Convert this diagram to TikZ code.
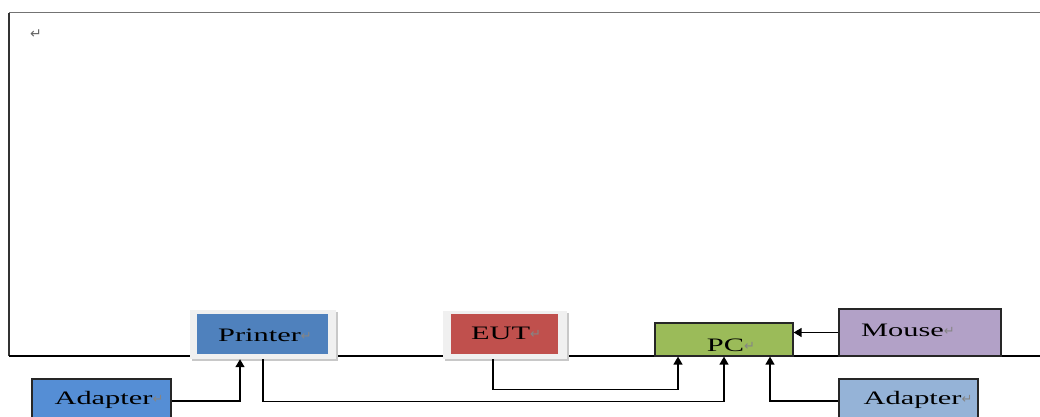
\documentclass[tikz,border=0pt]{standalone}
\usepackage{fontspec}
\usepackage{graphicx}
\setmainfont{Liberation Serif}
\newfontfamily\symf{DejaVu Sans}
\usetikzlibrary{arrows.meta,calc}
\definecolor{cPrinter}{HTML}{4F81BD}
\definecolor{cEUT}{HTML}{C0504D}
\definecolor{cPC}{HTML}{9BBB59}
\definecolor{cMouse}{HTML}{B2A1C7}
\definecolor{cAdL}{HTML}{558ED5}
\definecolor{cAdR}{HTML}{95B3D7}
\definecolor{cFrame}{HTML}{F0F0F0}
\definecolor{cShadow}{HTML}{C8C8C8}
\definecolor{cMark}{HTML}{858585}
\newcommand{\rmark}{{\symf\color{cMark}\fontsize{13}{13}\selectfont\raisebox{1pt}{↵}}}
\newcommand{\lbl}[1]{\scalebox{1.6}[1]{\fontsize{19}{19}\selectfont #1}\rmark}
\tikzset{
  box/.style={draw=black!85, line width=1.2pt, inner sep=0pt},
  plain/.style={draw=none, inner sep=0pt},
  frame/.style={fill=cFrame, draw=none, inner sep=0pt},
  shade/.style={fill=cShadow, draw=none, inner sep=0pt},
  lbltext/.style={inner sep=0pt, text=black},
  conn/.style={draw=black, line width=1.3pt},
  arr/.style={conn, -{Triangle[width=9pt,length=8pt]}}
}
\begin{document}
\begin{tikzpicture}[x=1pt,y=-1pt]
\useasboundingbox (0,0) rectangle (1040,417);
\clip (0,0) rectangle (1040,417);
% page frame
\coordinate (pgTL) at (9,13);
\coordinate (pgBR) at (1050,356);
\draw[black!55, line width=1pt] (pgTL) rectangle (pgBR);
\draw[black!80, line width=2pt] (pgTL) -- (pgTL |- pgBR);
\draw[black, line width=1.2pt] (pgTL |- pgBR) -- (pgBR);
\node[plain] (ret) at (36,34) {\symf\color{black!60}\fontsize{14}{14}\selectfont ↵};
% Printer
\node[shade, minimum width=146pt, minimum height=49pt] (printerS) at (265,336.5) {};
\node[frame, minimum width=146pt, minimum height=49pt] (printerF) at (263,334.5) {};
\node[plain, fill=cPrinter, minimum width=131pt, minimum height=40pt] (printer) at (262.5,334) {};
\node[lbltext] (tPrinter) at (265,335) {\lbl{Printer}};
% EUT
\node[shade, minimum width=124pt, minimum height=48pt] (eutS) at (507,337) {};
\node[frame, minimum width=124pt, minimum height=48pt] (eutF) at (505,335) {};
\node[plain, fill=cEUT, minimum width=107pt, minimum height=40pt] (eut) at (504.5,334) {};
\node[lbltext] (tEUT) at (506,333) {\lbl{EUT}};
% PC
\node[box, fill=cPC, minimum width=138pt, minimum height=33pt] (pc) at (724,339.5) {};
\node[lbltext] (tPC) at (731,345) {\lbl{PC}};
% Mouse
\node[box, fill=cMouse, minimum width=162pt, minimum height=47pt] (mouse) at (920,332.5) {};
\node[lbltext] (tMouse) at (908,330) {\lbl{Mouse}};
% Adapters
\node[box, fill=cAdL, minimum width=139pt, minimum height=44pt] (adL) at (101.5,401) {};
\node[lbltext] (tAdL) at (109,400) {\lbl{Adapter}};
\node[box, fill=cAdR, minimum width=139pt, minimum height=44pt] (adR) at (908.5,401) {};
\node[lbltext] (tAdR) at (918,400) {\lbl{Adapter}};
% connectors
\draw[arr] (adL.east) -| ([xshift=-23pt]printerF.south);
\draw[arr] (printerF.south) -- ++(0,42) -| (pc.south);
\draw[arr] ([xshift=-12pt]eutF.south) -- ++(0,30) -| ([xshift=-46pt]pc.south);
\draw[arr] (adR.west) -| ([xshift=46pt]pc.south);
\draw[arr] (mouse.west) -- (mouse.west -| pc.east);
\end{tikzpicture}
\end{document}
